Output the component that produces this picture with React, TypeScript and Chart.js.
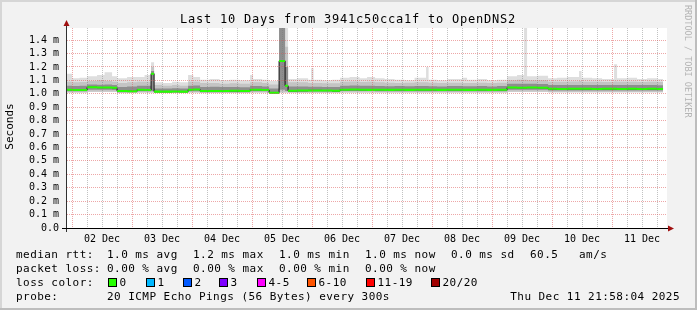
import React, { useEffect, useRef } from 'react';
import { Chart, registerables } from 'chart.js';

Chart.register(...registerables);

// ---- time axis (hours after 01 Dec 00:00) ----
const T_START = 21.968; // Mon Dec 01 21:58:04
const T_END = 261.968; // Thu Dec 11 21:58:04
const DATA_END = 260.4;
const DAY_LABELS = ['02 Dec', '03 Dec', '04 Dec', '05 Dec', '06 Dec', '07 Dec', '08 Dec', '09 Dec', '10 Dec', '11 Dec'];
const Y_TICKS = [0, 0.1, 0.2, 0.3, 0.4, 0.5, 0.6, 0.7, 0.8, 0.9, 1.0, 1.1, 1.2, 1.3, 1.4];
const Y_MAX = 1.49;

// ---- smoke data (ms): segment start times and ping distribution per step ----
const SEG_START = [
  22, 24, 27, 30, 34, 37, 40, 42, 46, 50, 53, 55.6, 56.8, 60, 64, 67, 70.4, 72.5,
  75.2, 79, 83, 87, 91, 95.2, 96.4, 100, 102.8, 106.8, 109.2, 110.4, 114, 118.4, 119.6, 120.6,
  124, 128, 131.2, 135, 139, 142, 145.2, 149, 153, 157, 161, 165.6, 166.6, 170,
  174, 180, 182, 186, 190, 194, 198, 202, 204.8, 206, 210, 214.4, 218, 222,
  226.8, 227.8, 232, 236, 240.8, 242, 246, 250, 254, 258,
];
const LO = [
  1.010, 1.010, 1.010, 1.015, 1.015, 1.015, 1.015, 1.008, 1.008, 1.010, 1.010, 1.010, 1.005, 1.005, 1.005, 1.005, 1.010, 1.010,
  1.008, 1.008, 1.008, 1.008, 1.008, 1.010, 1.010, 1.010, 1.000, 1.010, 1.010, 1.008, 1.008, 1.008, 1.008, 1.008,
  1.008, 1.008, 1.010, 1.010, 1.010, 1.010, 1.010, 1.010, 1.010, 1.010, 1.010, 1.010, 1.010, 1.010,
  1.010, 1.010, 1.010, 1.010, 1.010, 1.010, 1.015, 1.015, 1.015, 1.015, 1.015, 1.012, 1.012, 1.012,
  1.012, 1.012, 1.012, 1.012, 1.012, 1.012, 1.012, 1.012, 1.012, 1.012,
];
const Q1 = [
  1.018, 1.018, 1.018, 1.030, 1.030, 1.030, 1.028, 1.012, 1.012, 1.018, 1.018, 1.020, 1.010, 1.010, 1.010, 1.010, 1.018, 1.018,
  1.012, 1.012, 1.012, 1.012, 1.012, 1.018, 1.018, 1.018, 1.004, 1.030, 1.020, 1.014, 1.014, 1.016, 1.016, 1.016,
  1.016, 1.014, 1.020, 1.020, 1.020, 1.020, 1.019, 1.019, 1.019, 1.019, 1.019, 1.019, 1.019, 1.019,
  1.019, 1.019, 1.019, 1.019, 1.019, 1.019, 1.030, 1.030, 1.030, 1.030, 1.030, 1.024, 1.024, 1.024,
  1.024, 1.024, 1.024, 1.024, 1.024, 1.024, 1.024, 1.024, 1.024, 1.024,
];
const MED = [
  1.030, 1.028, 1.028, 1.048, 1.046, 1.046, 1.044, 1.020, 1.018, 1.030, 1.028, 1.150, 1.016, 1.016, 1.017, 1.016, 1.030, 1.032,
  1.020, 1.020, 1.020, 1.022, 1.020, 1.030, 1.030, 1.028, 1.008, 1.245, 1.060, 1.022, 1.024, 1.025, 1.025, 1.025,
  1.024, 1.022, 1.030, 1.031, 1.030, 1.029, 1.030, 1.029, 1.030, 1.029, 1.030, 1.030, 1.030, 1.029,
  1.030, 1.029, 1.029, 1.030, 1.029, 1.030, 1.046, 1.045, 1.045, 1.046, 1.045, 1.037, 1.036, 1.037,
  1.037, 1.037, 1.036, 1.037, 1.037, 1.036, 1.037, 1.036, 1.037, 1.036,
];
const Q3 = [
  1.060, 1.058, 1.060, 1.070, 1.068, 1.070, 1.065, 1.050, 1.055, 1.060, 1.060, 1.170, 1.040, 1.040, 1.042, 1.040, 1.060, 1.062,
  1.050, 1.052, 1.050, 1.050, 1.048, 1.060, 1.058, 1.055, 1.040, 1.500, 1.200, 1.055, 1.055, 1.052, 1.052, 1.052,
  1.050, 1.050, 1.060, 1.062, 1.060, 1.060, 1.058, 1.056, 1.058, 1.056, 1.058, 1.058, 1.056, 1.055,
  1.057, 1.056, 1.056, 1.057, 1.055, 1.057, 1.075, 1.075, 1.075, 1.075, 1.072, 1.065, 1.065, 1.066,
  1.066, 1.065, 1.065, 1.065, 1.066, 1.065, 1.066, 1.065, 1.065, 1.064,
];
const HI = [
  1.090, 1.085, 1.088, 1.095, 1.100, 1.095, 1.090, 1.080, 1.085, 1.090, 1.090, 1.200, 1.065, 1.060, 1.065, 1.060, 1.090, 1.090,
  1.080, 1.080, 1.075, 1.078, 1.075, 1.085, 1.085, 1.080, 1.070, 1.600, 1.350, 1.085, 1.085, 1.080, 1.080, 1.080,
  1.078, 1.078, 1.090, 1.092, 1.088, 1.090, 1.085, 1.082, 1.080, 1.082, 1.085, 1.085, 1.082, 1.080,
  1.082, 1.080, 1.080, 1.082, 1.080, 1.082, 1.100, 1.105, 1.105, 1.100, 1.100, 1.090, 1.090, 1.092,
  1.095, 1.090, 1.090, 1.088, 1.092, 1.090, 1.090, 1.088, 1.090, 1.088,
];
const TOP = [
  1.150, 1.115, 1.120, 1.130, 1.140, 1.160, 1.130, 1.115, 1.125, 1.125, 1.140, 1.235, 1.085, 1.080, 1.090, 1.085, 1.140, 1.125,
  1.105, 1.110, 1.100, 1.105, 1.100, 1.140, 1.110, 1.105, 1.095, 1.600, 1.600, 1.110, 1.115, 1.105, 1.190, 1.105,
  1.100, 1.105, 1.120, 1.125, 1.115, 1.125, 1.115, 1.110, 1.105, 1.100, 1.120, 1.200, 1.105, 1.100,
  1.110, 1.120, 1.105, 1.110, 1.100, 1.105, 1.130, 1.140, 1.490, 1.130, 1.135, 1.115, 1.120, 1.125,
  1.170, 1.120, 1.115, 1.110, 1.220, 1.115, 1.120, 1.110, 1.115, 1.110,
];

// ---- legend data ----
const RTT_KINDS = ['avg', 'max', 'min', 'now'];
const RTT_MS = [1.0, 1.2, 1.0, 1.0];
const RTT_SD = 0.0;
const RTT_AMS = 60.5;
const LOSS_PCT = [0.0, 0.0, 0.0, 0.0];
const LOSS_KEYS = ['0', '1', '2', '3', '4-5', '6-10', '11-19', '20/20'];
const LOSS_COLORS = ['#26ff00', '#00b8ff', '#0059ff', '#7e00ff', '#ff00ff', '#ff5500', '#ff0000', '#a10000'];
const TITLE = 'Last 10 Days from 3941c50cca1f to OpenDNS2';
const PROBE = '20 ICMP Echo Pings (56 Bytes) every 300s';
const STAMP = 'Thu Dec 11 21:58:04 2025';

// ---- styles ----
const MONO = '"DejaVu Sans Mono", monospace';
const MAJOR_GRID = 'rgba(220, 80, 80, 0.5)';
const MINOR_GRID = 'rgba(120, 120, 120, 0.45)';
const MEDIAN_HALF = 0.0075;

const pts = (vals: number[]) => [
  ...SEG_START.map((t, i) => ({ x: t, y: vals[i] })),
  { x: DATA_END, y: vals[vals.length - 1] },
];

const decor = {
  id: 'decor',
  beforeDraw(chart: any) {
    const { ctx, width, height, chartArea: a } = chart;
    ctx.save();
    ctx.fillStyle = '#f2f2f2';
    ctx.fillRect(0, 0, width, height);
    ctx.fillStyle = '#d6d6d6';
    ctx.fillRect(0, 0, width, 2);
    ctx.fillRect(0, 0, 2, height);
    ctx.fillStyle = '#bdbdbd';
    ctx.fillRect(0, height - 2, width, 2);
    ctx.fillRect(width - 2, 0, 2, height);
    ctx.fillStyle = '#ffffff';
    ctx.fillRect(a.left, a.top, a.right - a.left, a.bottom - a.top);
    ctx.restore();
  },
  afterDraw(chart: any) {
    const { ctx, chartArea: a } = chart;
    ctx.save();
    // axes
    ctx.fillStyle = '#303030';
    ctx.fillRect(a.left - 1, a.top - 2, 1, a.bottom - a.top + 6);
    ctx.fillStyle = '#000';
    ctx.fillRect(a.left - 5, a.bottom, a.right - a.left + 6, 1);
    ctx.fillStyle = '#a01010';
    ctx.beginPath();
    ctx.moveTo(a.left - 0.5, a.top - 8);
    ctx.lineTo(a.left - 3.5, a.top - 2);
    ctx.lineTo(a.left + 2.5, a.top - 2);
    ctx.closePath();
    ctx.fill();
    ctx.beginPath();
    ctx.moveTo(a.right + 7, a.bottom + 0.5);
    ctx.lineTo(a.right + 1, a.bottom - 2.5);
    ctx.lineTo(a.right + 1, a.bottom + 3.5);
    ctx.closePath();
    ctx.fill();

    // title
    ctx.fillStyle = '#000';
    ctx.font = `12px ${MONO}`;
    (ctx as any).letterSpacing = '0.78px';
    ctx.textAlign = 'center';
    ctx.textBaseline = 'alphabetic';
    ctx.fillText(TITLE, 348, 23);

    // y title
    (ctx as any).letterSpacing = '0px';
    ctx.save();
    ctx.translate(10.5, 126.5);
    ctx.rotate(-Math.PI / 2);
    ctx.font = `11px ${MONO}`;
    ctx.textBaseline = 'middle';
    ctx.fillText('Seconds', 0, 0);
    ctx.restore();

    // credit
    ctx.save();
    ctx.translate(687.5, 5);
    ctx.rotate(Math.PI / 2);
    ctx.font = `8.5px ${MONO}`;
    ctx.fillStyle = '#b4b4b4';
    ctx.textAlign = 'left';
    ctx.textBaseline = 'middle';
    ctx.fillText('RRDTOOL / TOBI OETIKER', 0, 0);
    ctx.restore();

    // legend
    ctx.font = `11px ${MONO}`;
    (ctx as any).letterSpacing = '0.45px';
    ctx.textAlign = 'left';
    ctx.textBaseline = 'alphabetic';
    ctx.fillStyle = '#000';
    const cols = [107, 193, 279, 365];
    const rows = [258, 272, 286, 300];
    ctx.fillText('median rtt:', 16, rows[0]);
    RTT_KINDS.forEach((k, i) => ctx.fillText(`${RTT_MS[i].toFixed(1)} ms ${k}`, cols[i], rows[0]));
    ctx.fillText(`${RTT_SD.toFixed(1)} ms sd`, 451, rows[0]);
    ctx.fillText(`${RTT_AMS.toFixed(1)}`, 530, rows[0]);
    ctx.fillText('am/s', 579, rows[0]);
    ctx.fillText('packet loss:', 16, rows[1]);
    RTT_KINDS.forEach((k, i) => ctx.fillText(`${LOSS_PCT[i].toFixed(2)} % ${k}`, cols[i], rows[1]));
    ctx.fillText('loss color:', 16, rows[2]);
    const boxX = [108, 145.5, 182.5, 219, 256.5, 307, 365.5, 430.5];
    LOSS_KEYS.forEach((k, i) => {
      const bx = Math.round(boxX[i]);
      ctx.fillStyle = LOSS_COLORS[i];
      ctx.fillRect(bx, 278, 8, 8);
      ctx.strokeStyle = '#000';
      ctx.lineWidth = 1;
      ctx.strokeRect(bx + 0.5, 278.5, 8, 8);
      ctx.fillStyle = '#000';
      ctx.fillText(k, bx + 11.5, rows[2]);
    });
    ctx.fillText('probe:', 16, rows[3]);
    ctx.fillText(PROBE, 107, rows[3]);
    ctx.textAlign = 'right';
    ctx.fillText(STAMP, 680, rows[3]);
    ctx.restore();
  },
};

export default function App() {
  const ref = useRef<HTMLCanvasElement>(null);
  useEffect(() => {
    document.body.style.margin = '0';
    const base = {
      stepped: true as const,
      pointRadius: 0,
      borderWidth: 0,
      borderColor: 'transparent',
      tension: 0,
    };
    const gridTicks: number[] = [];
    for (let h = 24; h < T_END; h += 6) gridTicks.push(h);
    const chart = new Chart(ref.current!, {
      type: 'line',
      data: {
        datasets: [
          { ...base, label: 'min', data: pts(LO), fill: false, order: 50 },
          { ...base, label: 'max', data: pts(TOP), fill: { target: 0 }, backgroundColor: '#dedede', order: 40 },
          { ...base, label: 'p90', data: pts(HI), fill: { target: 0 }, backgroundColor: '#c4c4c4', order: 30 },
          { ...base, label: 'p25', data: pts(Q1), fill: false, order: 50 },
          { ...base, label: 'p75', data: pts(Q3), fill: { target: 3 }, backgroundColor: '#8e8e8e', order: 20 },
          { ...base, label: 'median', data: pts(MED), borderWidth: 1, borderColor: '#111111', fill: false, order: 10 },
          { ...base, label: 'medLo', data: pts(MED.map((v) => v - MEDIAN_HALF)), fill: false, order: 50 },
          { ...base, label: 'medHi', data: pts(MED.map((v) => v + MEDIAN_HALF)), fill: { target: 6 }, backgroundColor: LOSS_COLORS[0], order: 5 },
        ] as any,
      },
      options: {
        animation: false,
        responsive: false,
        devicePixelRatio: 1,
        events: [],
        layout: { padding: { top: 28, left: 0, right: 30, bottom: 0 } },
        plugins: { legend: { display: false }, tooltip: { enabled: false }, title: { display: false } },
        scales: {
          x: {
            type: 'linear',
            min: T_START,
            max: T_END,
            afterBuildTicks: (s: any) => {
              s.ticks = gridTicks.map((v) => ({ value: v }));
            },
            afterFit: (s: any) => {
              s.height = 82;
            },
            grid: {
              color: (c: any) => (c.tick && c.tick.value % 24 === 0 ? MAJOR_GRID : MINOR_GRID),
              lineWidth: 1,
              drawTicks: false,
              z: 1,
            },
            border: { display: false, dash: [1, 1] },
            ticks: {
              autoSkip: false,
              maxRotation: 0,
              minRotation: 0,
              padding: 5,
              color: '#000',
              font: { family: MONO, size: 10 },
              callback: (v: any) => {
                const n = Number(v);
                if (n % 24 !== 12) return '';
                return DAY_LABELS[(n - 36) / 24] ?? '';
              },
            },
          },
          y: {
            type: 'linear',
            min: 0,
            max: Y_MAX,
            afterBuildTicks: (s: any) => {
              s.ticks = Y_TICKS.map((v) => ({ value: v }));
            },
            afterFit: (s: any) => {
              s.width = 67;
            },
            grid: { color: MAJOR_GRID, lineWidth: 1, drawTicks: false, z: 1 },
            border: { display: false, dash: [1, 1] },
            ticks: {
              autoSkip: false,
              padding: 8,
              color: '#000',
              font: { family: MONO, size: 10 },
              callback: (v: any) => (Number(v) === 0 ? '0.0' : `${Number(v).toFixed(1)} m`),
            },
          },
        },
      } as any,
      plugins: [decor],
    });
    return () => chart.destroy();
  }, []);
  return (
    <div style={{ position: 'fixed', left: 0, top: 0, width: 697, height: 310 }}>
      <canvas ref={ref} width={697} height={310} style={{ display: 'block', width: 697, height: 310 }} />
    </div>
  );
}
